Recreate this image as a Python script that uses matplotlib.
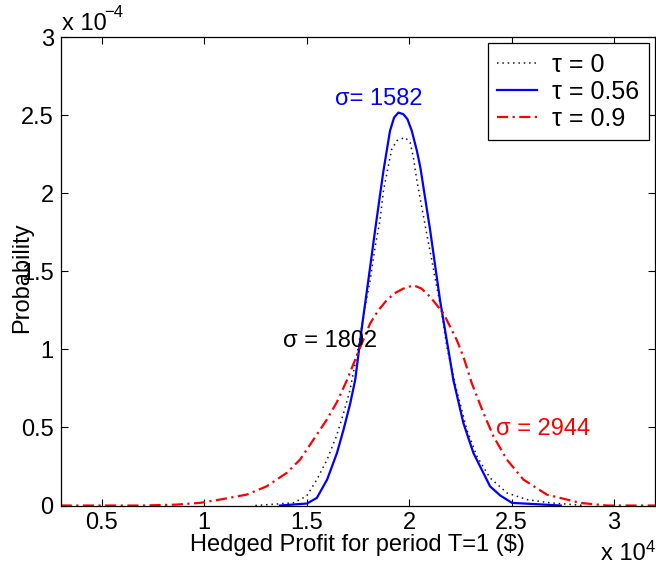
import matplotlib
matplotlib.use('Agg')
import matplotlib.pyplot as plt
from matplotlib.ticker import FuncFormatter

plt.rcParams['font.family'] = ['Liberation Sans', 'DejaVu Sans']

# hedged profit ($) and probability (units of 1e-4)
x_tau0 = [12500, 14350, 15000, 15500, 16000, 16450, 16800, 17120, 17500, 17850,
          18100, 18340, 18580, 18750, 18910, 19150, 19400, 19800, 20050, 20210,
          20380, 20620, 20860, 21110, 21350, 21600, 21840, 22300, 22820, 23310,
          23950, 24770, 25750, 26900, 28600]
p_tau0 = [0, 0.017, 0.06, 0.166, 0.294, 0.442, 0.59, 0.74, 1.0, 1.272,
          1.442, 1.655, 1.825, 2.017, 2.123, 2.28, 2.336, 2.357, 2.325, 2.229,
          2.080, 1.910, 1.740, 1.570, 1.400, 1.230, 1.017, 0.75, 0.485, 0.315,
          0.177, 0.081, 0.038, 0.017, 0]

x_tau056 = [13700, 15020, 15500, 16000, 16480, 16800, 17130, 17370, 17700, 18100,
            18340, 18590, 18750, 19070, 19270, 19480, 19720, 19920, 20130, 20380,
            20550, 21030, 21510, 22000, 22160, 22650, 23140, 23950, 24450, 25020,
            27400]
p_tau056 = [0, 0.013, 0.049, 0.166, 0.336, 0.485, 0.655, 0.804, 1.144, 1.527,
            1.761, 1.996, 2.144, 2.40, 2.485, 2.516, 2.506, 2.474, 2.40, 2.272,
            2.165, 1.761, 1.315, 0.932, 0.804, 0.528, 0.336, 0.123, 0.064, 0.017,
            0]

x_tau09 = [3000, 7030, 8660, 9800, 10770, 12080, 13050, 14030, 14680, 15330,
           15980, 16470, 16960, 17450, 18100, 18500, 18910, 19300, 19720, 20210,
           20600, 21030, 21680, 22330, 22650, 23060, 23630, 24120, 24770, 25580,
           26720, 28350, 29650, 32000]
p_tau09 = [0, 0, 0.006, 0.017, 0.038, 0.070, 0.123, 0.209, 0.294, 0.421,
           0.549, 0.66, 0.80, 0.96, 1.166, 1.25, 1.315, 1.36, 1.389, 1.41,
           1.39, 1.336, 1.230, 1.059, 0.953, 0.783, 0.592, 0.442, 0.294, 0.166,
           0.070, 0.017, 0, 0]

labels = ['\u03c4 = 0', '\u03c4 = 0.56', '\u03c4 = 0.9']
xticks = [5000, 10000, 15000, 20000, 25000, 30000]
yticks = [0, 0.5, 1, 1.5, 2, 2.5, 3]

fs = 17

fig = plt.figure(figsize=(6.56, 5.74), dpi=100)
ax = fig.add_axes([0.0925, 0.1193, 0.906, 0.8162])

ax.plot(x_tau0, p_tau0, color='0.1', lw=1.1, linestyle=(0, (1, 2.5)), label=labels[0])
ax.plot(x_tau056, p_tau056, color='b', lw=1.6, label=labels[1])
ax.plot(x_tau09, p_tau09, color='r', lw=1.6, linestyle=(0, (5, 2, 1, 2)), label=labels[2])

ax.set_xlim(3000, 32000)
ax.set_ylim(0, 3)
ax.set_xticks(xticks)
ax.set_yticks(yticks)
ax.xaxis.set_major_formatter(FuncFormatter(lambda v, p: '%g' % (v / 1e4)))
ax.yaxis.set_major_formatter(FuncFormatter(lambda v, p: '%g' % v))
ax.tick_params(direction='in', length=5, width=0.8, top=True, right=True,
               labelsize=fs, pad=5)
for s in ax.spines.values():
    s.set_linewidth(0.9)

ax.set_xlabel('Hedged Profit for period T=1 ($)', fontsize=fs)
ax.xaxis.set_label_coords(0.5, -0.061)
ax.set_ylabel('Probability', fontsize=fs)
ax.yaxis.set_label_coords(-0.047, 0.486)

ax.text(18511, 2.60, '\u03c3= 1582', color='b', fontsize=fs, ha='center', va='center')
ax.text(16167, 1.053, '\u03c3 = 1802', color='k', fontsize=fs, ha='center', va='center')
ax.text(26543, 0.49, '\u03c3 = 2944', color='r', fontsize=fs, ha='center', va='center')

leg = ax.legend(loc='upper right', fontsize=18, fancybox=False, framealpha=1,
                edgecolor='k', borderaxespad=0.25, handlelength=1.6,
                handletextpad=0.6, labelspacing=0.12, borderpad=0.38)
leg.get_frame().set_linewidth(0.9)

# exponent markers, MATLAB style
fig.text(62 / 656, 1 - 30 / 574, 'x 10', fontsize=fs, ha='left', va='baseline')
fig.text(104 / 656, 1 - 17 / 574, '\u22124', fontsize=12, ha='left', va='baseline')
fig.text(601 / 656, 1 - 560 / 574, 'x 10', fontsize=fs, ha='left', va='baseline')
fig.text(646 / 656, 1 - 552 / 574, '4', fontsize=12, ha='left', va='baseline')

fig.savefig('out.png', dpi=100)
